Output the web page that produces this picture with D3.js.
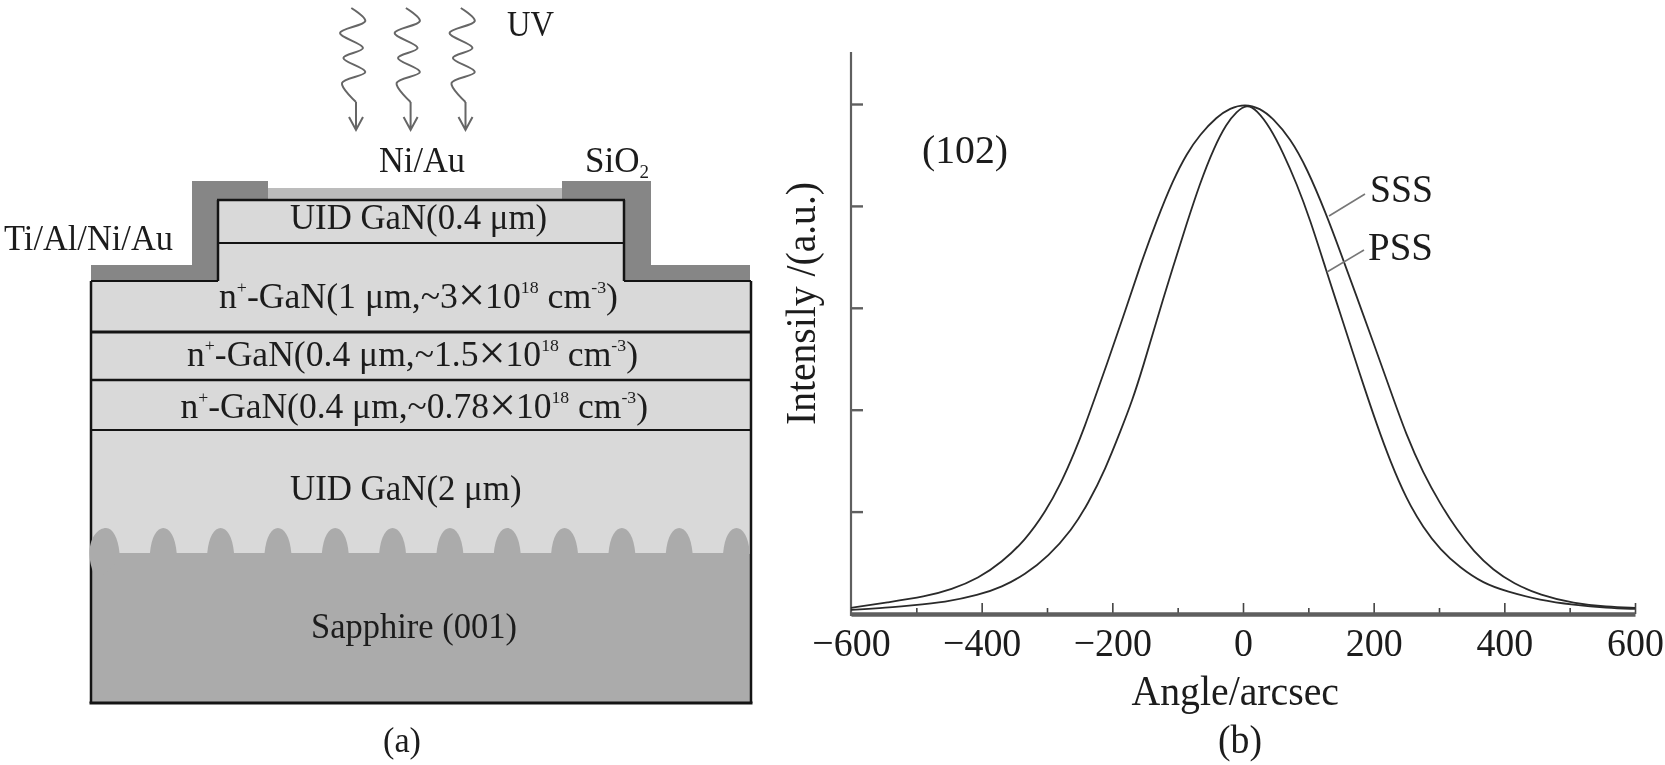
<!DOCTYPE html>
<html><head><meta charset="utf-8">
<script src="https://d3js.org/d3.v7.min.js"></script>
<style>
html,body{margin:0;padding:0;background:#fff;overflow:hidden}
svg{display:block;filter:blur(0.6px)}
text{font-family:"Liberation Serif",serif;fill:#1c1c1c}
</style></head><body>
<svg id="c" width="1665" height="765"></svg>
<script>
// ---------- data: panel (b) rocking curves ----------
const sssAngle=[-600,-543,-487,-446,-405,-369,-334,-303,-278,-257,-242,-227,-209,-183,-158,-132,-107,-86,-66,-40,-20,3,26,46,72,98,128,148,174,200,225,250,276,302,327,353,383,414,455,506,557,600];
const sssIntensity=[.011,.022,.033,.047,.069,.101,.143,.198,.257,.319,.368,.422,.487,.583,.681,.772,.851,.903,.94,.975,.992,1,.992,.972,.933,.874,.782,.713,.622,.53,.44,.35,.275,.215,.165,.122,.085,.059,.036,.02,.013,.011];
const pssAngle=[-600,-558,-507,-456,-405,-369,-334,-298,-262,-237,-211,-186,-170,-153,-132,-107,-86,-66,-45,-25,-10,6,21,41,62,82,102,128,148,170,184,205,225,250,276,302,332,368,404,455,506,557,600];
const pssIntensity=[.007,.01,.016,.022,.036,.052,.076,.112,.164,.216,.282,.363,.416,.484,.576,.681,.766,.844,.913,.962,.985,1,.988,.955,.903,.844,.776,.671,.592,.505,.45,.37,.3,.225,.168,.125,.09,.059,.043,.026,.017,.011,.009];
const xMajor=[-600,-400,-200,0,200,400,600];
const xMinor=[-500,-300,-100,100,300,500];
const yTicks=[0,.2,.4,.6,.8,1];
// ---------- data: panel (a) labels ----------
const layerLabels=[
 ["UID GaN(0.4 μm)"],
 ["n","^+","-GaN(1 μm,~3","×","10","^18"," cm","^-3",")"],
 ["n","^+","-GaN(0.4 μm,~1.5","×","10","^18"," cm","^-3",")"],
 ["n","^+","-GaN(0.4 μm,~0.78","×","10","^18"," cm","^-3",")"],
 ["UID GaN(2 μm)"],
 ["Sapphire (001)"]];
const patternIndex=d3.range(12);
const wave=[[-4.7,8],[9.3,21],[-16,33],[7,48],[-12.6,58],[9.3,72],[-14,83],[0,102]];

const svg=d3.select("#c");
const GaN="#d9d9d9",SAP="#ababab",OX="#868686",NI="#bcbcbc",LINE="#141414";

// ---------- panel (a) schematic ----------
const a=svg.append("g");
const L=91,R=751,MT=200,ML=218,MR=624,TOP=281,BOT=703;
const rect=(x0,y0,x1,y1,f)=>a.append("rect").attr("x",x0).attr("y",y0).attr("width",x1-x0).attr("height",y1-y0).attr("fill",f);
const hline=(x0,x1,y,w)=>a.append("line").attr("x1",x0).attr("x2",x1).attr("y1",y).attr("y2",y).attr("stroke",LINE).attr("stroke-width",w);
const vline=(x,y0,y1,w)=>a.append("line").attr("x1",x).attr("x2",x).attr("y1",y0).attr("y2",y1).attr("stroke",LINE).attr("stroke-width",w);

rect(L,TOP,R,BOT,GaN);
rect(ML,MT,MR,TOP+1,GaN);
rect(L,553,R,BOT,SAP);
rect(268,188,562,MT,NI);
// SiO2 and contacts
a.append("path").attr("fill",OX).attr("d",`M192,181H268V${MT}H${ML}V${TOP}H192Z`);
a.append("path").attr("fill",OX).attr("d",`M562,181H651V${TOP}H${MR}V${MT}H562Z`);
rect(L,265,192,TOP,OX);
rect(651,265,750,TOP,OX);
// layer lines
hline(L,ML,TOP,2);hline(MR,R,TOP,2);
hline(ML-1,MR+1,MT,2.5);hline(ML,MR,243,2);
vline(ML,MT,TOP,2.5);vline(MR,MT,TOP,2.5);
hline(L,R,332,3);hline(L,R,380,2.5);hline(L,R,430,2);hline(L-1.5,R+1.5,BOT,3);
vline(L,TOP,BOT,2.5);vline(R,TOP,BOT,2.5);
// patterned sapphire cones
const cone=d3.scaleLinear().domain([0,11]).range([106,736.5]);
a.selectAll("path.cone").data(patternIndex).join("path").attr("class","cone").attr("fill",SAP)
 .attr("d",i=>{const x=cone(i);return i===0
   ? `M${x-16.5},553 C${x-16.5},536 ${x-7},528 ${x},528 C${x+7},528 ${x+12},538 ${x+13.5},553 L${x+13.5},560 L${x-8},580 C${x-13},574 ${x-16.5},564 ${x-16.5},553Z`
   : `M${x-13.5},554 C${x-12},536 ${x-6},528 ${x},528 C${x+6},528 ${x+12},536 ${x+Math.min(13.5,R-1-x)},554Z`});
// UV arrows
const waveLine=d3.line().curve(d3.curveCatmullRom.alpha(.5));
[356,410.6,465.5].forEach(x=>{
 const g=a.append("g").attr("transform",`translate(${x},0)`).attr("fill","none").attr("stroke","#666").attr("stroke-width",2);
 g.append("path").attr("d",waveLine(wave));
 g.append("path").attr("d","M0,102V130M-7,117L0,130L7,117");
});
// labels
function label(parent,segs,x,y,size,width){
 const t=parent.append("text").attr("x",x).attr("y",y).attr("font-size",size);
 let up=false;
 segs.forEach(s=>{
  const sup=s[0]==="^";
  const sp=t.append("tspan").text(sup?s.slice(1):s);
  if(sup){sp.attr("font-size",size*.5).attr("dy",-size*.42);up=true}
  else if(up){sp.attr("dy",size*.42);up=false}
  if(s==="×")sp.attr("font-size",size*1.35).attr("dy",size*.08).attr("font-weight",300);
  if(s==="10")sp.attr("dy",-size*.08);
 });
 t.style("white-space","pre");
 if(width)t.attr("textLength",width).attr("lengthAdjust","spacingAndGlyphs");
 return t;
}
const FS=35.5;
label(a,layerLabels[0],290,229,FS,257);
label(a,layerLabels[1],219,308,FS,399);
label(a,layerLabels[2],187,366,FS,451);
label(a,layerLabels[3],180.5,418,FS,467.5);
label(a,layerLabels[4],290,500,FS,231.5);
label(a,layerLabels[5],311,638,FS,206);
label(a,["UV"],507,36,35,47);
label(a,["Ni/Au"],379,172,35,86);
label(a,["Ti/Al/Ni/Au"],4,250,35,169);
const si=label(a,["SiO"],585,172,35);
si.append("tspan").text("2").attr("font-size",19).attr("dy",6);
label(a,["(a)"],383,752,35,38);

// ---------- panel (b) chart ----------
const b=svg.append("g");
const x=d3.scaleLinear().domain([-600,600]).range([851,1635]);
const y=d3.scaleLinear().domain([0,1]).range([613.5,104]);
const AX="#5f5f5f";

b.append("line").attr("x1",851).attr("x2",851).attr("y1",52).attr("y2",616).attr("stroke",AX).attr("stroke-width",2.2);
const yAxis=b.append("g").attr("transform","translate(851,0)")
 .call(d3.axisRight(y).tickValues(yTicks.slice(1)).tickSize(12).tickFormat(""));
yAxis.select(".domain").remove();
yAxis.selectAll("line").attr("stroke",AX).attr("stroke-width",2.4);

const AXY=614;
const major=b.append("g").attr("transform",`translate(0,${AXY})`).call(d3.axisTop(x).tickValues(xMajor.slice(1)).tickSize(11).tickFormat(""));
const minor=b.append("g").attr("transform",`translate(0,${AXY})`).call(d3.axisTop(x).tickValues(xMinor).tickSize(6).tickFormat(""));
major.select(".domain").remove();minor.select(".domain").remove();
major.selectAll("line").attr("stroke","#444").attr("stroke-width",1.6);
minor.selectAll("line").attr("stroke","#444").attr("stroke-width",1.6);
const bottom=b.append("g").attr("transform",`translate(0,${AXY})`)
 .call(d3.axisBottom(x).tickValues(xMajor).tickSize(0).tickPadding(14));
bottom.select(".domain").attr("stroke",AX).attr("stroke-width",4.5);
bottom.selectAll("text").attr("font-size",39.5).attr("font-family",'"Liberation Serif",serif').attr("fill","#1c1c1c")
 .each(function(){const w=this.getComputedTextLength();d3.select(this).attr("textLength",w*.96).attr("lengthAdjust","spacingAndGlyphs")});

const line=d3.line().x(d=>x(d[0])).y(d=>y(d[1])).curve(d3.curveBasis);
[[sssAngle,sssIntensity],[pssAngle,pssIntensity]].forEach(([ax,iy])=>{
 b.append("path").attr("fill","none").attr("stroke","#2a2a2a").attr("stroke-width",1.8)
  .attr("d",line(ax.map((v,i)=>[v,iy[i]])));
});
// leaders
[[1329,216,1365,194],[1327,272,1364,250]].forEach(l=>b.append("line")
 .attr("x1",l[0]).attr("y1",l[1]).attr("x2",l[2]).attr("y2",l[3]).attr("stroke","#777").attr("stroke-width",1.6));
label(b,["SSS"],1370,201.5,39,63);
label(b,["PSS"],1368,260,39,65);
label(b,["(102)"],922,163,41,86);
label(b,["Angle/arcsec"],1131.5,705,43,207.5);
label(b,["(b)"],1218,753,40,44);
b.append("text").attr("transform","translate(815,425) rotate(-90)").attr("font-size",42)
 .attr("textLength",243).attr("lengthAdjust","spacingAndGlyphs").text("Intensily /(a.u.)");
</script>
</body></html>
